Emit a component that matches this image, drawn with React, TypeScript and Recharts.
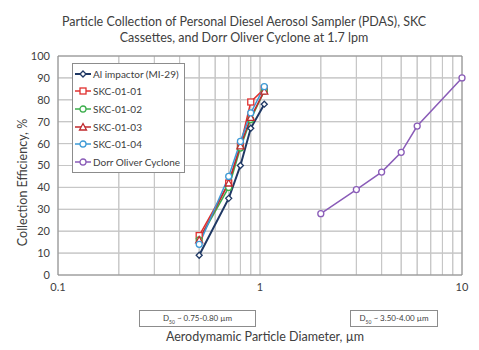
import { LineChart, Line, XAxis, YAxis, CartesianGrid, ReferenceLine } from 'recharts'

const impactorSizes = [0.5, 0.7, 0.8, 0.9, 1.05]
const alImpactor = [9, 35, 50, 67, 78]
const skc0101 = [18, 42, 59, 79, 85]
const skc0102 = [16, 40, 58, 71, 84]
const skc0103 = [16, 42, 59, 72, 84]
const skc0104 = [14, 45, 61, 74, 86]

const cycloneSizes = [2, 3, 4, 5, 6, 10]
const dorrOliver = [28, 39, 47, 56, 68, 90]

const xTicks = [0.1, 0.2, 0.3, 0.4, 0.5, 0.6, 0.7, 0.8, 0.9, 1, 2, 3, 4, 5, 6, 7, 8, 9, 10]
const xLabels = [0.1, 1, 10]
const yTicks = [0, 10, 20, 30, 40, 50, 60, 70, 80, 90, 100]

const FONT = 'Lato, sans-serif'
const GRID = '#c6c6c6'
const FRAME = '#8c8c8c'

type Shape = 'diamond' | 'square' | 'circle' | 'triangle'

const series = [
  { key: 'al', name: 'Al impactor (MI-29)', color: '#1f3864', shape: 'diamond' as Shape, width: 2 },
  { key: 's1', name: 'SKC-01-01', color: '#e0302f', shape: 'square' as Shape, width: 1.5 },
  { key: 's2', name: 'SKC-01-02', color: '#3cae4c', shape: 'circle' as Shape, width: 1.5 },
  { key: 's3', name: 'SKC-01-03', color: '#c0282d', shape: 'triangle' as Shape, width: 1.5 },
  { key: 's4', name: 'SKC-01-04', color: '#3d9ad6', shape: 'circle' as Shape, width: 1.5 },
  { key: 'dorr', name: 'Dorr Oliver Cyclone', color: '#8a5cb8', shape: 'circle' as Shape, width: 1.5 },
]

// one row per particle size; each series only has values at its own sizes
const rows = [
  ...impactorSizes.map((x, i) => ({ x, al: alImpactor[i], s1: skc0101[i], s2: skc0102[i], s3: skc0103[i], s4: skc0104[i] })),
  ...cycloneSizes.map((x, i) => ({ x, dorr: dorrOliver[i] })),
]

function Marker({ cx, cy, shape, color }: { cx: number; cy: number; shape: Shape; color: string }) {
  const r = 3
  if (cx == null || cy == null) return null
  if (shape === 'square') {
    return <rect x={cx - r} y={cy - r} width={r * 2} height={r * 2} fill="#fff" stroke={color} strokeWidth={1.3} />
  }
  if (shape === 'diamond') {
    return <polygon points={`${cx},${cy - r} ${cx + r},${cy} ${cx},${cy + r} ${cx - r},${cy}`} fill="#fff" stroke={color} strokeWidth={1.3} />
  }
  if (shape === 'triangle') {
    return <polygon points={`${cx},${cy - r - 0.5} ${cx + r + 0.5},${cy + r} ${cx - r - 0.5},${cy + r}`} fill="#fff" stroke={color} strokeWidth={1.3} />
  }
  return <circle cx={cx} cy={cy} r={r} fill="#fff" stroke={color} strokeWidth={1.3} />
}

function LegendBox() {
  return (
    <div style={{ position: 'absolute', left: 72, top: 63, border: '1px solid #8c8c8c', background: '#fff', padding: '1px 4px 1px 2px', fontFamily: FONT, fontSize: 10, color: '#404040' }}>
      {series.map((s) => (
        <div key={s.name} style={{ display: 'flex', alignItems: 'center', height: 17.6 }}>
          <svg width={16} height={10} style={{ marginRight: 2 }}>
            <line x1={0} y1={5} x2={16} y2={5} stroke={s.color} strokeWidth={s.width} />
            <Marker cx={8} cy={5} shape={s.shape} color={s.color} />
          </svg>
          <span>{s.name}</span>
        </div>
      ))}
    </div>
  )
}

function D50Box({ left, width, range }: { left: number; width: number; range: string }) {
  return (
    <div style={{ position: 'absolute', left, top: 310, width, height: 17, border: '1px solid #8c8c8c', background: '#fff', boxSizing: 'border-box', fontFamily: FONT, fontSize: 8, color: '#404040', display: 'flex', alignItems: 'center', justifyContent: 'center' }}>
      <span>D<sub style={{ fontSize: 5 }}>50</sub> ~ {range} µm</span>
    </div>
  )
}

export default function App() {
  return (
    <div style={{ position: 'absolute', left: 0, top: 0, width: 479, height: 350, fontFamily: FONT }}>
      <LineChart width={479} height={350} data={rows} margin={{ top: 56, right: 17, bottom: 45, left: 28 }}>
        <CartesianGrid stroke={GRID} />
        <XAxis
          type="number"
          dataKey="x"
          scale="log"
          domain={[0.1, 10]}
          ticks={xTicks}
          interval={0}
          tickFormatter={(v: number) => (xLabels.includes(v) ? String(v) : '')}
          tick={{ fontSize: 11, fill: '#404040' }}
          tickLine={false}
          axisLine={{ stroke: FRAME }}
        />
        <YAxis
          type="number"
          domain={[0, 100]}
          ticks={yTicks}
          interval={0}
          width={30}
          tick={{ fontSize: 11, fill: '#404040' }}
          tickLine={false}
          axisLine={{ stroke: FRAME }}
        />
        {xTicks.slice(1, -1).map((t) => (
          <ReferenceLine key={`gx-${t}`} x={t} stroke={GRID} ifOverflow="visible" />
        ))}
        {yTicks.slice(1, -1).map((t) => (
          <ReferenceLine key={`gy-${t}`} y={t} stroke={GRID} ifOverflow="visible" />
        ))}
        <ReferenceLine y={100} stroke={FRAME} ifOverflow="visible" />
        <ReferenceLine x={10} stroke={FRAME} ifOverflow="visible" />
        {series.map((s) => (
          <Line
            key={s.key}
            name={s.name}
            dataKey={s.key}
            type="linear"
            stroke={s.color}
            strokeWidth={s.width}
            isAnimationActive={false}
            dot={(p: any) => <Marker key={`${s.key}-${p.index}`} cx={p.cx} cy={p.cy} shape={s.shape} color={s.color} />}
            activeDot={false}
          />
        ))}
      </LineChart>
      <div style={{ position: 'absolute', left: 0, top: 14, width: 488, textAlign: 'center', fontSize: 12.5, lineHeight: '16px', color: '#404040' }}>
        Particle Collection of Personal Diesel Aerosol Sampler (PDAS), SKC
        <br />
        Cassettes, and Dorr Oliver Cyclone at 1.7 lpm
      </div>
      <LegendBox />
      <D50Box left={139} width={117} range="0.75-0.80" />
      <D50Box left={350} width={88} range="3.50-4.00" />
      <div style={{ position: 'absolute', left: 60, top: 329, width: 410, textAlign: 'center', fontSize: 12.5, color: '#404040' }}>
        Aerodymamic Particle Diameter, µm
      </div>
      <div style={{ position: 'absolute', left: 22, top: 183, width: 200, marginLeft: -100, marginTop: -8, textAlign: 'center', fontSize: 12.5, color: '#404040', transform: 'rotate(-90deg)' }}>
        Collection Efficiency, %
      </div>
    </div>
  )
}
